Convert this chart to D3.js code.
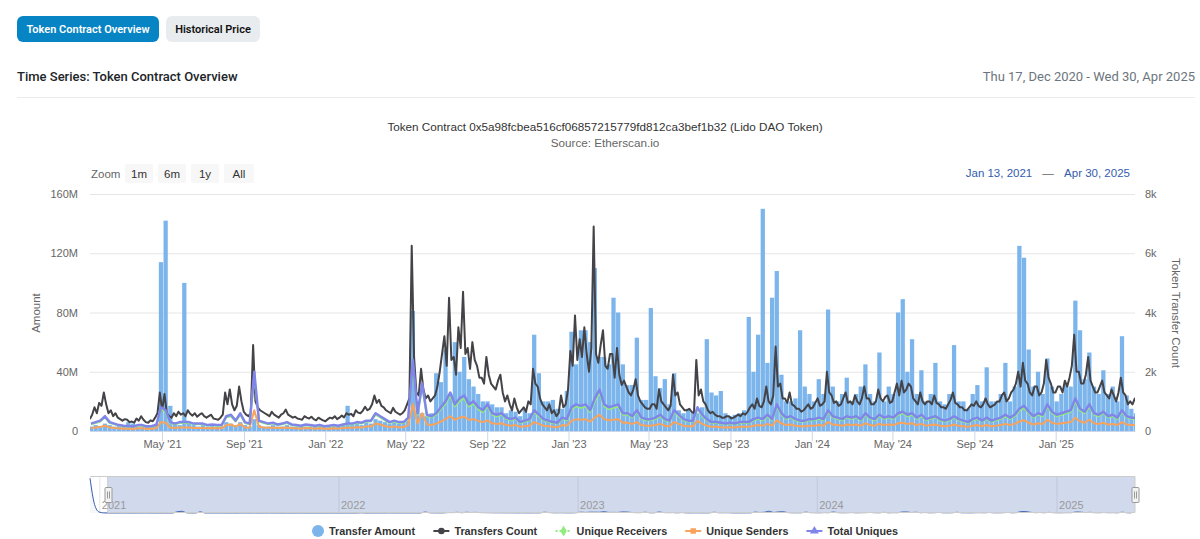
<!DOCTYPE html>
<html>
<head>
<meta charset="utf-8">
<script src="https://cdn.jsdelivr.net/npm/d3@7"></script>
<style>
  body { margin: 0; background: #fff; }
  svg { display: block; }
</style>
</head>
<body>
<svg id="chart" width="1200" height="539"></svg>
<script>
//data
const firstWeek = "2021-01-11";
const viewStart = "2021-01-13";
const viewEnd = "2025-04-30";
const navStart = "2020-12-17";

// weekly transfer amount (M)
const transferAmount = [
  3,4,3,5,4,3,4,3,6,5,3,3,4,3,5,
  114,142,17,6,4,100,5,4,3,4,3,4,3,3,6,
  5,4,6,4,3,8,4,3,3,4,3,3,4,3,3,
  3,3,3,4,3,3,3,4,3,4,17,4,5,4,6,
  5,8,7,6,5,6,5,6,7,81,20,12,10,12,39,
  33,55,25,60,40,50,35,30,25,20,20,18,16,16,12,
  14,13,10,15,12,65,39,20,20,21,15,15,27,67,45,
  68,68,60,110,50,50,45,90,80,45,31,31,63,21,21,
  83,37,29,35,18,39,14,12,15,13,12,16,62,26,24,
  27,12,10,11,12,14,77,40,65,150,46,90,108,38,20,
  20,22,68,30,25,20,35,25,82,30,20,25,36,20,25,
  30,45,25,20,53,20,30,25,80,89,40,62,25,41,20,
  25,46,20,18,25,58,20,20,15,25,31,20,43,20,20,
  25,46,20,30,125,117,55,30,40,25,49,30,20,25,31,
  30,88,68,35,53,30,25,41,25,30,20,64,24,15,12
];

// transfers count every half week (k)
const transfersCount = [
  0.4,0.55, 0.8,0.6, 0.95,0.85, 1.3,0.9, 0.6,0.7, 0.5,0.6, 0.45,0.4, 0.35,0.4, 0.38,0.3, 0.32,0.28,
  0.42,0.35, 0.5,0.38, 0.3,0.28, 0.36,0.33, 0.45,0.6, 1.3,0.7, 1.25,0.6, 0.5,0.45, 0.6,0.5, 0.65,0.55,
  0.6,0.5, 0.7,0.58, 0.52,0.6, 0.48,0.55, 0.6,0.5, 0.45,0.5, 0.55,0.42, 0.4,0.38, 0.45,0.55, 1.3,0.9,
  1.4,0.9, 0.7,0.85, 1.5,1.0, 0.65,0.55, 0.5,0.6, 2.9,1.0, 0.8,0.7, 0.65,0.6, 0.55,0.5, 0.65,0.55,
  0.5,0.45, 0.55,0.6, 0.72,0.55, 0.5,0.45, 0.48,0.42, 0.4,0.38, 0.5,0.45, 0.42,0.48, 0.4,0.36, 0.45,0.4,
  0.36,0.33, 0.4,0.45, 0.42,0.5, 0.4,0.45, 0.52,0.46, 0.6,0.55, 0.58,0.5, 0.7,0.62, 0.6,0.68, 0.82,0.7,
  0.75,0.9, 1.2,0.95, 1.05,0.85, 0.8,0.7, 0.65,0.6, 0.78,0.65, 0.6,0.55, 0.6,0.7, 0.9,1.1, 6.25,2.5,
  1.3,1.2, 2.1,1.4, 1.1,1.2, 1.0,1.1, 1.2,1.5, 2.0,2.6, 3.2,2.2, 4.5,2.4, 2.5,1.9, 3.5,2.8,
  4.7,2.6, 2.8,2.1, 3.0,2.4, 2.2,1.8, 1.8,1.6, 2.5,1.9, 1.6,1.5, 1.4,1.7, 1.9,1.3, 1.0,1.2,
  0.9,0.7, 1.1,0.8, 0.6,0.7, 0.8,0.65, 1.0,0.9, 2.1,1.6, 1.5,1.1, 0.9,0.8, 0.7,0.9, 0.6,0.7,
  0.5,0.6, 1.2,0.8, 0.9,1.4, 2.7,2.2, 3.9,2.4, 3.1,2.5, 3.5,2.6, 2.0,2.8, 6.9,2.6, 2.3,2.9,
  3.4,2.2, 2.1,2.6, 2.6,1.8, 2.8,1.9, 1.55,1.7, 1.5,1.3, 1.2,1.4, 1.75,1.2, 1.0,0.9, 0.8,0.75,
  0.75,0.9, 0.9,0.75, 1.4,1.0, 0.9,0.8, 0.7,0.85, 1.9,1.2, 1.3,0.9, 0.8,0.7, 0.7,0.75, 0.65,0.6,
  2.4,1.2, 1.4,1.0, 0.9,0.7, 0.6,0.65, 0.55,0.5, 0.5,0.45, 0.45,0.5, 0.5,0.42, 0.45,0.5, 0.55,0.5,
  0.6,0.55, 0.65,0.8, 0.9,0.75, 1.1,0.85, 0.8,1.0, 1.5,1.0, 0.9,1.2, 2.85,1.5, 1.6,1.1, 1.1,0.95,
  1.3,0.9, 0.85,0.75, 0.75,0.65, 0.7,0.8, 0.9,0.75, 0.8,0.95, 1.1,0.85, 0.9,1.0, 2.0,1.3, 1.2,0.95,
  1.0,0.85, 0.9,1.1, 1.3,0.95, 1.0,0.9, 1.2,1.0, 0.9,1.1, 1.5,1.1, 1.1,0.9, 0.9,1.0, 1.4,1.1,
  1.0,1.15, 1.2,0.95, 1.0,1.3, 1.6,1.2, 1.7,1.3, 1.4,1.6, 1.5,1.1, 1.0,0.9, 1.3,1.0, 0.9,1.0,
  1.0,0.9, 1.2,0.95, 0.9,0.8, 0.8,0.75, 0.9,1.05, 1.3,0.95, 0.9,0.8, 0.8,0.7, 0.7,0.8, 0.9,0.85,
  1.0,0.85, 0.8,0.9, 1.1,0.9, 0.8,0.85, 0.9,1.0, 1.0,1.2, 1.3,1.0, 1.1,1.3, 1.4,1.6, 2.0,1.5,
  2.3,1.7, 1.6,1.3, 1.2,1.5, 1.5,1.2, 1.3,1.6, 2.4,1.8, 1.6,1.3, 1.3,1.5, 1.5,1.3, 1.7,1.5,
  1.8,2.2, 3.25,2.0, 2.0,1.6, 1.6,1.9, 2.5,1.7, 1.5,1.3, 1.3,1.5, 1.7,1.3, 1.2,1.1, 1.4,1.2,
  1.0,1.3, 1.8,1.3, 1.2,0.9, 1.0,0.9, 1.1,1.0
];

// weekly unique receivers (k)
const uniqueReceivers = [
  0.23,0.27,0.32,0.46,0.27,0.23,0.18,0.16,0.15,0.13,0.18,0.18,0.13,0.15,0.18,
  0.74,0.64,0.27,0.23,0.27,0.27,0.27,0.23,0.23,0.23,0.18,0.2,0.18,0.18,0.46,
  0.5,0.32,0.55,0.27,0.23,1.85,0.32,0.27,0.23,0.25,0.2,0.23,0.27,0.2,0.18,
  0.16,0.2,0.18,0.16,0.18,0.14,0.16,0.18,0.16,0.2,0.23,0.23,0.27,0.25,0.32,
  0.32,0.55,0.46,0.36,0.27,0.32,0.27,0.27,0.41,2.2,0.55,1.47,0.5,0.46,0.55,
  0.74,0.92,1.2,0.83,1.01,1.1,0.83,0.92,0.74,0.64,0.83,0.55,0.5,0.55,0.41,
  0.36,0.41,0.27,0.32,0.36,0.64,0.5,0.36,0.32,0.27,0.25,0.41,0.36,0.74,0.83,
  0.78,0.83,0.64,1.01,1.29,0.83,0.74,0.78,0.83,0.55,0.55,0.46,0.64,0.41,0.36,
  0.36,0.41,0.5,0.36,0.32,0.64,0.5,0.36,0.32,0.32,0.74,0.5,0.36,0.27,0.27,
  0.25,0.23,0.25,0.23,0.27,0.27,0.27,0.36,0.41,0.36,0.5,0.36,0.83,0.55,0.41,
  0.46,0.36,0.32,0.32,0.36,0.36,0.41,0.36,0.64,0.46,0.41,0.36,0.46,0.41,0.46,
  0.36,0.55,0.41,0.36,0.5,0.41,0.46,0.41,0.55,0.6,0.5,0.55,0.41,0.5,0.36,
  0.41,0.46,0.36,0.32,0.36,0.46,0.36,0.32,0.27,0.36,0.41,0.32,0.41,0.32,0.36,
  0.41,0.5,0.41,0.5,0.69,0.78,0.6,0.46,0.55,0.5,0.83,0.6,0.5,0.55,0.6,
  0.64,1.01,0.69,0.6,0.83,0.55,0.5,0.6,0.46,0.5,0.41,0.64,0.46,0.41,0.41
];

// weekly unique senders (k)
const uniqueSenders = [
  0.1,0.12,0.14,0.18,0.12,0.1,0.09,0.08,0.08,0.07,0.09,0.09,0.07,0.08,0.09,
  0.3,0.28,0.12,0.1,0.12,0.12,0.12,0.1,0.1,0.1,0.09,0.1,0.09,0.09,0.2,
  0.22,0.15,0.24,0.12,0.11,0.7,0.14,0.12,0.11,0.12,0.1,0.11,0.12,0.1,0.09,
  0.08,0.1,0.09,0.08,0.09,0.08,0.08,0.09,0.08,0.1,0.11,0.11,0.13,0.12,0.15,
  0.15,0.25,0.22,0.17,0.13,0.15,0.13,0.13,0.2,0.9,0.25,0.6,0.22,0.2,0.25,
  0.32,0.4,0.5,0.38,0.45,0.48,0.38,0.4,0.34,0.3,0.36,0.26,0.24,0.26,0.2,
  0.18,0.2,0.14,0.16,0.18,0.3,0.24,0.18,0.16,0.14,0.13,0.2,0.18,0.34,0.4,
  0.38,0.4,0.32,0.45,0.55,0.4,0.36,0.38,0.4,0.28,0.28,0.24,0.3,0.2,0.18,
  0.18,0.2,0.24,0.18,0.16,0.3,0.24,0.18,0.16,0.16,0.34,0.24,0.18,0.14,0.14,
  0.13,0.12,0.13,0.12,0.14,0.14,0.14,0.18,0.2,0.18,0.24,0.18,0.36,0.26,0.2,
  0.22,0.18,0.16,0.16,0.18,0.18,0.2,0.18,0.3,0.22,0.2,0.18,0.22,0.2,0.22,
  0.18,0.26,0.2,0.18,0.24,0.2,0.22,0.2,0.26,0.28,0.24,0.26,0.2,0.24,0.18,
  0.2,0.22,0.18,0.16,0.18,0.22,0.18,0.16,0.14,0.18,0.2,0.16,0.2,0.16,0.18,
  0.2,0.24,0.2,0.24,0.32,0.36,0.28,0.22,0.26,0.24,0.38,0.28,0.24,0.26,0.28,
  0.3,0.45,0.32,0.28,0.38,0.26,0.24,0.28,0.22,0.24,0.2,0.3,0.22,0.2,0.2
];

// weekly total uniques (k)
const totalUniques = [
  0.25,0.3,0.35,0.5,0.3,0.25,0.2,0.18,0.17,0.15,0.2,0.2,0.15,0.17,0.2,
  0.8,0.7,0.3,0.25,0.3,0.3,0.3,0.25,0.25,0.25,0.2,0.22,0.2,0.2,0.5,
  0.55,0.35,0.6,0.3,0.25,2.0,0.35,0.3,0.25,0.28,0.22,0.25,0.3,0.22,0.2,
  0.18,0.22,0.2,0.18,0.2,0.16,0.18,0.2,0.18,0.22,0.25,0.25,0.3,0.28,0.35,
  0.35,0.6,0.5,0.4,0.3,0.35,0.3,0.3,0.45,2.4,0.6,1.6,0.55,0.5,0.6,
  0.8,1.0,1.3,0.9,1.1,1.2,0.9,1.0,0.8,0.7,0.9,0.6,0.55,0.6,0.45,
  0.4,0.45,0.3,0.35,0.4,0.7,0.55,0.4,0.35,0.3,0.28,0.45,0.4,0.8,0.9,
  0.85,0.9,0.7,1.1,1.4,0.9,0.8,0.85,0.9,0.6,0.6,0.5,0.7,0.45,0.4,
  0.4,0.45,0.55,0.4,0.35,0.7,0.55,0.4,0.35,0.35,0.8,0.55,0.4,0.3,0.3,
  0.28,0.25,0.28,0.25,0.3,0.3,0.3,0.4,0.45,0.4,0.55,0.4,0.9,0.6,0.45,
  0.5,0.4,0.35,0.35,0.4,0.4,0.45,0.4,0.7,0.5,0.45,0.4,0.5,0.45,0.5,
  0.4,0.6,0.45,0.4,0.55,0.45,0.5,0.45,0.6,0.65,0.55,0.6,0.45,0.55,0.4,
  0.45,0.5,0.4,0.35,0.4,0.5,0.4,0.35,0.3,0.4,0.45,0.35,0.45,0.35,0.4,
  0.45,0.55,0.45,0.55,0.75,0.85,0.65,0.5,0.6,0.55,0.9,0.65,0.55,0.6,0.65,
  0.7,1.1,0.75,0.65,0.9,0.6,0.55,0.65,0.5,0.55,0.45,0.7,0.5,0.45,0.45
];

// navigator lead-in before the weekly data (M)
const navLeadDates = ["2020-12-17", "2020-12-24", "2020-12-31", "2021-01-07"];
const navLeadAmount = [2900, 700, 80, 10];

const amountTicks = [0, 40, 80, 120, 160];
const countTicks = [0, 2, 4, 6, 8];
const monthTicks = [
  "2021-05-01", "2021-09-01", "2022-01-01", "2022-05-01", "2022-09-01", "2023-01-01",
  "2023-05-01", "2023-09-01", "2024-01-01", "2024-05-01", "2024-09-01", "2025-01-01"
];
const yearTicks = ["2021-01-01", "2022-01-01", "2023-01-01", "2024-01-01", "2025-01-01"];
const zoomButtons = ["1m", "6m", "1y", "All"];
const legendNames = ["Transfer Amount", "Transfers Count", "Unique Receivers", "Unique Senders", "Total Uniques"];

//style
const colors = ["#7cb5ec", "#434348", "#90ed7d", "#f7a35c", "#8085e9"];
const symbols = [d3.symbolCircle, d3.symbolCircle, d3.symbolDiamond, d3.symbolSquare, d3.symbolTriangle];
const chartFont = "'Liberation Sans', Arial, sans-serif";
const pageFont = "Roboto, sans-serif";

//size
const plot = { left: 90, right: 1135, top: 194, bottom: 431 };
const nav = { top: 476, bottom: 513 };

const parseDate = d3.timeParse("%Y-%m-%d");
const weekDate = (i) => d3.timeDay.offset(parseDate(firstWeek), 7 * i);
const weekMid = (i) => d3.timeHour.offset(weekDate(i), 84);
const halfWeekMid = (j) => d3.timeHour.offset(parseDate(firstWeek), 84 * j + 42);

//scale
const xScale = d3.scaleTime()
  .domain([parseDate(viewStart), parseDate(viewEnd)])
  .range([plot.left, plot.right]);
const yAmount = d3.scaleLinear().domain([0, 160]).range([plot.bottom, plot.top]);
const yCount = d3.scaleLinear().domain([0, 8]).range([plot.bottom, plot.top]);
const xNav = d3.scaleTime()
  .domain([parseDate(navStart), parseDate(viewEnd)])
  .range([plot.left, plot.right]);
const yNav = d3.scaleLinear().domain([0, 3000]).range([nav.bottom, nav.top + 1]);

const svg = d3.select("#chart");

//header
svg.append("rect").attr("x", 17).attr("y", 16).attr("width", 142).attr("height", 26)
  .attr("rx", 6).attr("fill", "#0784c3");
svg.append("text").attr("x", 88).attr("y", 33).attr("text-anchor", "middle")
  .attr("fill", "#fff").style("font", `600 11px ${pageFont}`).text("Token Contract Overview");
svg.append("rect").attr("x", 166).attr("y", 16).attr("width", 94).attr("height", 26)
  .attr("rx", 6).attr("fill", "#e9ecef");
svg.append("text").attr("x", 213).attr("y", 33).attr("text-anchor", "middle")
  .attr("fill", "#111").style("font", `600 11px ${pageFont}`).text("Historical Price");

svg.append("text").attr("x", 17).attr("y", 81).attr("fill", "#212529")
  .style("font", `500 13px ${pageFont}`).text("Time Series: Token Contract Overview");
svg.append("text").attr("x", 1195).attr("y", 81).attr("text-anchor", "end").attr("fill", "#6c757d")
  .style("font", `13px ${pageFont}`).text("Thu 17, Dec 2020 - Wed 30, Apr 2025");
svg.append("line").attr("x1", 17).attr("x2", 1195).attr("y1", 97.5).attr("y2", 97.5)
  .attr("stroke", "#e9ecef");

//title
svg.append("text").attr("x", 605).attr("y", 131).attr("text-anchor", "middle").attr("fill", "#333")
  .style("font", `11.7px ${chartFont}`)
  .text("Token Contract 0x5a98fcbea516cf06857215779fd812ca3bef1b32 (Lido DAO Token)");
svg.append("text").attr("x", 605).attr("y", 147).attr("text-anchor", "middle").attr("fill", "#666")
  .style("font", `11.7px ${chartFont}`).text("Source: Etherscan.io");

//range selector
svg.append("text").attr("x", 91).attr("y", 178).attr("fill", "#666")
  .style("font", `11.5px ${chartFont}`).text("Zoom");
const btn = svg.append("g").selectAll("g").data(zoomButtons).join("g")
  .attr("transform", (d, i) => `translate(${125 + i * 33},164)`);
btn.append("rect").attr("width", (d) => (d === "All" ? 30 : 28)).attr("height", 19).attr("rx", 2)
  .attr("fill", "#f7f7f7");
btn.append("text").attr("x", (d) => (d === "All" ? 15 : 14)).attr("y", 14).attr("text-anchor", "middle")
  .attr("fill", "#333").style("font", `11.5px ${chartFont}`).text((d) => d);

const fmtInput = d3.timeFormat("%b %d, %Y");
svg.append("text").attr("x", 999).attr("y", 177).attr("text-anchor", "middle").attr("fill", "#335cad")
  .style("font", `11.5px ${chartFont}`).text(fmtInput(parseDate(viewStart)));
svg.append("text").attr("x", 1048).attr("y", 177).attr("text-anchor", "middle").attr("fill", "#666")
  .style("font", `11.5px ${chartFont}`).text("\u2014");
svg.append("text").attr("x", 1097).attr("y", 177).attr("text-anchor", "middle").attr("fill", "#335cad")
  .style("font", `11.5px ${chartFont}`).text(fmtInput(parseDate(viewEnd)));

//grid + y-axes
const gLeft = svg.append("g").attr("transform", `translate(${plot.left},0)`)
  .call(d3.axisLeft(yAmount).tickValues(amountTicks).tickSize(-(plot.right - plot.left))
    .tickPadding(12).tickFormat((d) => (d ? d + "M" : "0")));
gLeft.select(".domain").remove();
gLeft.selectAll(".tick line").attr("stroke", "#e6e6e6");
gLeft.selectAll(".tick text").attr("fill", "#666").style("font", `11px ${chartFont}`);

const gRight = svg.append("g").attr("transform", `translate(${plot.right},0)`)
  .call(d3.axisRight(yCount).tickValues(countTicks).tickSize(0)
    .tickPadding(10).tickFormat((d) => (d ? d + "k" : "0")));
gRight.select(".domain").remove();
gRight.selectAll(".tick text").attr("fill", "#666").style("font", `11px ${chartFont}`);

svg.append("text").attr("transform", "translate(40,313) rotate(-90)").attr("text-anchor", "middle")
  .attr("fill", "#666").style("font", `11.5px ${chartFont}`).text("Amount");
svg.append("text").attr("transform", "translate(1172,313) rotate(90)").attr("text-anchor", "middle")
  .attr("fill", "#666").style("font", `11.5px ${chartFont}`).text("Token Transfer Count");

//clip
svg.append("clipPath").attr("id", "plot-clip").append("rect")
  .attr("x", plot.left).attr("y", plot.top - 10)
  .attr("width", plot.right - plot.left).attr("height", plot.bottom - plot.top + 10);

const marks = svg.append("g").attr("clip-path", "url(#plot-clip)");

//bars
marks.append("g").selectAll("rect").data(transferAmount).join("rect")
  .attr("x", (d, i) => xScale(weekDate(i)) + 0.2)
  .attr("width", (d, i) => xScale(weekDate(i + 1)) - xScale(weekDate(i)) - 0.4)
  .attr("y", (d) => yAmount(d))
  .attr("height", (d) => plot.bottom - yAmount(d))
  .attr("fill", colors[0]);

//lines
const halfWeekLine = d3.line()
  .x((d, j) => xScale(halfWeekMid(j)))
  .y((d) => yCount(d));
const weekLine = d3.line()
  .x((d, i) => xScale(weekMid(i)))
  .y((d) => yCount(d));

marks.append("path").datum(transfersCount)
  .attr("d", halfWeekLine)
  .attr("fill", "none")
  .attr("stroke", colors[1])
  .attr("stroke-width", 2)
  .attr("stroke-linejoin", "round");

[uniqueReceivers, uniqueSenders, totalUniques].forEach((series, k) => {
  marks.append("path").datum(series)
    .attr("d", weekLine)
    .attr("fill", "none")
    .attr("stroke", colors[k + 2])
    .attr("stroke-width", k === 2 ? 2.5 : 2)
    .attr("stroke-linejoin", "round");
});

//x-axis
const gx = svg.append("g").attr("transform", `translate(0,${plot.bottom})`)
  .call(d3.axisBottom(xScale).tickValues(monthTicks.map(parseDate))
    .tickFormat(d3.timeFormat("%b '%y")).tickSize(10).tickSizeOuter(0));
gx.select(".domain").attr("stroke", "#ccd6eb");
gx.selectAll(".tick line").attr("stroke", "#ccd6eb");
gx.selectAll(".tick text").attr("y", 17).attr("dy", null).attr("fill", "#666")
  .style("font", `11px ${chartFont}`);

//navigator
const navG = svg.append("g");
navG.selectAll("line.year").data(yearTicks.map(parseDate)).join("line")
  .attr("class", "year")
  .attr("x1", (d) => xNav(d)).attr("x2", (d) => xNav(d))
  .attr("y1", nav.top).attr("y2", nav.bottom)
  .attr("stroke", "#e6e6e6");

const navSeries = navLeadDates.map((d, i) => ({ date: parseDate(d), value: navLeadAmount[i] }))
  .concat(transferAmount.map((v, i) => ({ date: weekMid(i), value: v })))
  .filter((d) => d.date <= parseDate(viewEnd));

navG.append("path").datum(navSeries)
  .attr("d", d3.area().curve(d3.curveMonotoneX).x((d) => xNav(d.date)).y0(nav.bottom).y1((d) => yNav(d.value)))
  .attr("fill", "#335cad").attr("fill-opacity", 0.05);
navG.append("path").datum(navSeries)
  .attr("d", d3.line().curve(d3.curveMonotoneX).x((d) => xNav(d.date)).y((d) => yNav(d.value)))
  .attr("fill", "none").attr("stroke", "#335cad").attr("stroke-width", 1);

const selL = xNav(parseDate(viewStart));
const selR = xNav(parseDate(viewEnd));
navG.append("rect").attr("x", selL).attr("y", nav.top).attr("width", selR - selL)
  .attr("height", nav.bottom - nav.top).attr("fill", "rgba(102,133,194,0.3)");
navG.append("path")
  .attr("d", `M${plot.left},${nav.top + 0.5}L${selL},${nav.top + 0.5}L${selL},${nav.bottom - 0.5}L${selR},${nav.bottom - 0.5}L${selR},${nav.top + 0.5}L${plot.right},${nav.top + 0.5}`)
  .attr("fill", "none").attr("stroke", "#cccccc");
navG.append("line").attr("x1", plot.left).attr("x2", plot.right)
  .attr("y1", nav.top + 0.5).attr("y2", nav.top + 0.5).attr("stroke", "#cccccc");

navG.selectAll("text.year").data(yearTicks.map(parseDate)).join("text")
  .attr("class", "year")
  .attr("x", (d) => xNav(d) + 2).attr("y", nav.bottom - 4)
  .attr("fill", "#999").style("font", `11px ${chartFont}`)
  .text(d3.timeFormat("%Y"));

const handles = navG.selectAll("g.handle").data([selL, selR]).join("g")
  .attr("class", "handle")
  .attr("transform", (d) => `translate(${Math.round(d) - 3.5},${(nav.top + nav.bottom) / 2 - 7.5})`);
handles.append("rect").attr("width", 7).attr("height", 15).attr("fill", "#f2f2f2")
  .attr("stroke", "#999").attr("x", 0.5).attr("y", 0.5).attr("rx", 1);
handles.append("path").attr("d", "M3,4.5V11.5M5,4.5V11.5").attr("stroke", "#999");

//legend
const legend = svg.append("g").attr("transform", "translate(0,531)");
const items = legend.selectAll("g").data(legendNames).join("g");
items.each(function (name, i) {
  const g = d3.select(this);
  const symW = i === 0 ? 12 : 16;
  if (i === 0) {
    g.append("circle").attr("cx", 6).attr("cy", 0).attr("r", 6).attr("fill", colors[0]);
  } else {
    g.append("line").attr("x1", 0).attr("x2", 16).attr("y1", 0).attr("y2", 0)
      .attr("stroke", colors[i]).attr("stroke-width", 2)
      .attr("stroke-dasharray", i === 2 ? "2,2" : null);
    g.append("path").attr("transform", "translate(8,0)")
      .attr("d", d3.symbol().type(symbols[i]).size(i === 3 ? 30 : 34)())
      .attr("fill", colors[i]);
  }
  g.append("text").attr("x", symW + 5).attr("y", 4).attr("fill", "#333")
    .style("font", `bold 10.8px ${chartFont}`).text(name);
});
let widths = [];
items.each(function () { widths.push(this.getBBox().width); });
const gap = 18;
const total = d3.sum(widths) + gap * (widths.length - 1);
let cursor = 605 - total / 2;
items.attr("transform", (d, i) => {
  const t = `translate(${cursor},0)`;
  cursor += widths[i] + gap;
  return t;
});
</script>
</body>
</html>
